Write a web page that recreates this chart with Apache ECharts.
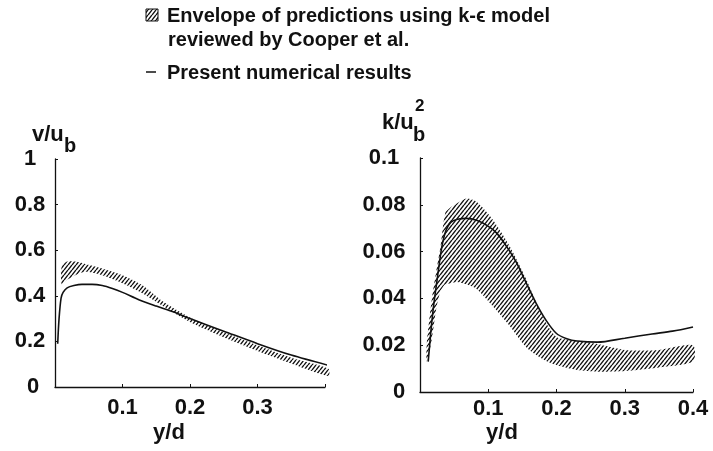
<!DOCTYPE html>
<html>
<head>
<meta charset="utf-8">
<script src="https://cdn.jsdelivr.net/npm/echarts@6/dist/echarts.min.js"></script>
<style>
  html, body { margin: 0; padding: 0; background: #ffffff; }
  #chart { width: 713px; height: 451px; }
</style>
</head>
<body>
<div id="chart"></div>
<script>
// ---- v/u_b profile (left panel) ----
const lineX_v = [0.004, 0.006, 0.009, 0.012, 0.018, 0.028, 0.04, 0.055, 0.07, 0.085, 0.1, 0.125, 0.15, 0.175, 0.2, 0.25, 0.3, 0.35, 0.405];
const lineY_v = [0.19, 0.30, 0.39, 0.415, 0.435, 0.445, 0.45, 0.45, 0.445, 0.432, 0.415, 0.382, 0.355, 0.33, 0.30, 0.245, 0.19, 0.14, 0.095];

const envX_v  = [0.010, 0.018, 0.03, 0.045, 0.07, 0.10, 0.13, 0.16, 0.20, 0.25, 0.30, 0.35, 0.405];
const envLo_v = [0.45, 0.47, 0.49, 0.505, 0.49, 0.455, 0.41, 0.355, 0.285, 0.218, 0.158, 0.103, 0.048];
const envHi_v = [0.53, 0.55, 0.55, 0.54, 0.52, 0.49, 0.445, 0.375, 0.305, 0.24, 0.183, 0.128, 0.08];

// ---- k/u_b^2 profile (right panel) ----
const lineX_k = [0.012, 0.016, 0.02, 0.026, 0.032, 0.038, 0.045, 0.055, 0.068, 0.082, 0.098, 0.112, 0.125, 0.14, 0.155, 0.17, 0.185, 0.2, 0.215, 0.23, 0.26, 0.3, 0.34, 0.37, 0.4];
const lineY_k = [0.013, 0.026, 0.037, 0.05, 0.062, 0.069, 0.0725, 0.0738, 0.0742, 0.0735, 0.0712, 0.068, 0.063, 0.056, 0.047, 0.038, 0.0305, 0.025, 0.0228, 0.0218, 0.0213, 0.023, 0.0248, 0.026, 0.0278];

const envX_k  = [0.010, 0.017, 0.024, 0.030, 0.037, 0.045, 0.054, 0.068, 0.083, 0.107, 0.132, 0.156, 0.18, 0.20, 0.23, 0.26, 0.30, 0.35, 0.40];
const envLo_k = [0.013, 0.022, 0.036, 0.043, 0.046, 0.0465, 0.047, 0.046, 0.044, 0.0365, 0.028, 0.019, 0.014, 0.0115, 0.0094, 0.0087, 0.009, 0.0105, 0.013];
const envHi_k = [0.021, 0.039, 0.052, 0.062, 0.0765, 0.079, 0.0806, 0.0827, 0.0813, 0.0735, 0.062, 0.048, 0.032, 0.0235, 0.022, 0.0205, 0.018, 0.018, 0.020];

// ---- tick labels ----
const xTicksLeft  = ['0.1', '0.2', '0.3'];
const xTicksRight = ['0.1', '0.2', '0.3', '0.4'];

const INK = '#111111';
const FONT = '"Liberation Sans", Arial, sans-serif';

// diagonal hatch tile used for the envelope fill
function hatchTile(w, h, lw) {
  const c = document.createElement('canvas');
  c.width = w; c.height = h;
  const g = c.getContext('2d');
  g.strokeStyle = INK;
  g.lineWidth = lw;
  g.beginPath();
  for (let k = -1; k <= 1; k++) {
    g.moveTo(k * w, h);
    g.lineTo(k * w + w, 0);
  }
  g.stroke();
  return c;
}
const hatch = { image: hatchTile(4, 5, 1.4), repeat: 'repeat' };

function zip(a, b) { return a.map((x, i) => [x, b[i]]); }

// envelope band drawn as one polygon: upper edge forward, lower edge back
function bandSeries(idx, xs, lo, hi) {
  return {
    type: 'custom',
    xAxisIndex: idx, yAxisIndex: idx,
    silent: true,
    z: 2,
    encode: { x: 0, y: [1, 2] },
    data: xs.map((x, i) => [x, lo[i], hi[i]]),
    renderItem: function (params, api) {
      if (params.dataIndex !== 0) return null;
      const pts = [];
      for (let i = 0; i < xs.length; i++) pts.push(api.coord([xs[i], hi[i]]));
      for (let i = xs.length - 1; i >= 0; i--) pts.push(api.coord([xs[i], lo[i]]));
      return {
        type: 'polygon',
        shape: { points: pts, smooth: 0.25 },
        style: { fill: hatch, stroke: null }
      };
    }
  };
}

function lineSeries(idx, xs, ys) {
  return {
    type: 'line', xAxisIndex: idx, yAxisIndex: idx,
    data: zip(xs, ys), symbol: 'none', smooth: 0.3, z: 5,
    lineStyle: { color: INK, width: 1.6 }, silent: true
  };
}

const axisLine = { show: true, onZero: false, lineStyle: { color: INK, width: 1.3 } };
const axisTick = { show: true, inside: true, length: 3, lineStyle: { color: INK, width: 1 } };
const labelBase = { color: INK, fontFamily: FONT, fontWeight: 'bold', fontSize: 22 };

// y labels are centred; the zero label sits a little further right
function yLabel(zeroPad) {
  return Object.assign({}, labelBase, {
    align: 'center',
    formatter: v => (v === 0 ? '{z|0}' : String(v)),
    rich: { z: { color: INK, fontFamily: FONT, fontWeight: 'bold', fontSize: 22, padding: [0, 0, 0, zeroPad] } }
  });
}

const TITLE = 'bold 22px ' + FONT;
const LEG = 'bold 20px ' + FONT;

const chart = echarts.init(document.getElementById('chart'), null, { renderer: 'canvas' });
chart.setOption({
  backgroundColor: '#ffffff',
  animation: false,
  grid: [
    { left: 55, top: 159, width: 270, height: 228 },
    { left: 420, top: 158, width: 273, height: 234 }
  ],
  xAxis: [
    {
      gridIndex: 0, type: 'value', min: 0, max: 0.4, interval: 0.1,
      axisLine, axisTick, splitLine: { show: false },
      axisLabel: Object.assign({}, labelBase, {
        margin: 10,
        formatter: v => { const s = String(+v.toFixed(1)); return xTicksLeft.includes(s) ? s : ''; }
      })
    },
    {
      gridIndex: 1, type: 'value', min: 0, max: 0.4, interval: 0.1,
      axisLine, axisTick, splitLine: { show: false },
      axisLabel: Object.assign({}, labelBase, {
        margin: 6,
        formatter: v => { const s = String(+v.toFixed(1)); return xTicksRight.includes(s) ? s : ''; }
      })
    }
  ],
  yAxis: [
    {
      gridIndex: 0, type: 'value', min: 0, max: 1, interval: 0.2,
      axisLine, axisTick, splitLine: { show: false },
      axisLabel: Object.assign(yLabel(6), { margin: 25 })
    },
    {
      gridIndex: 1, type: 'value', min: 0, max: 0.1, interval: 0.02,
      axisLine, axisTick, splitLine: { show: false },
      axisLabel: Object.assign(yLabel(30), { margin: 36 })
    }
  ],
  series: [
    bandSeries(0, envX_v, envLo_v, envHi_v),
    lineSeries(0, lineX_v, lineY_v),
    bandSeries(1, envX_k, envLo_k, envHi_k),
    lineSeries(1, lineX_k, lineY_k)
  ],
  graphic: [
    // legend
    { type: 'rect', shape: { x: 146, y: 9, width: 12, height: 12 }, style: { fill: hatch, stroke: INK, lineWidth: 1 } },
    { type: 'text', x: 167, y: 16, style: { text: 'Envelope of predictions using k-\u03f5 model', font: LEG, fill: INK, verticalAlign: 'middle' } },
    { type: 'text', x: 168, y: 40, style: { text: 'reviewed by Cooper et al.', font: LEG, fill: INK, verticalAlign: 'middle' } },
    { type: 'line', shape: { x1: 146, y1: 72, x2: 156, y2: 72 }, style: { stroke: INK, lineWidth: 1.5 } },
    { type: 'text', x: 167, y: 73, style: { text: 'Present numerical results', font: LEG, fill: INK, verticalAlign: 'middle' } },
    // left axis titles
    { type: 'text', x: 32, y: 146, style: { text: 'v/u', font: TITLE, fill: INK, verticalAlign: 'bottom' } },
    { type: 'text', x: 64, y: 156, style: { text: 'b', font: 'bold 20px ' + FONT, fill: INK, verticalAlign: 'bottom' } },
    { type: 'text', x: 169, y: 433, style: { text: 'y/d', font: TITLE, fill: INK, align: 'center', verticalAlign: 'middle' } },
    // right axis titles
    { type: 'text', x: 382, y: 134, style: { text: 'k/u', font: TITLE, fill: INK, verticalAlign: 'bottom' } },
    { type: 'text', x: 413, y: 145, style: { text: 'b', font: 'bold 20px ' + FONT, fill: INK, verticalAlign: 'bottom' } },
    { type: 'text', x: 415, y: 115, style: { text: '2', font: 'bold 17px ' + FONT, fill: INK, verticalAlign: 'bottom' } },
    { type: 'text', x: 502, y: 433, style: { text: 'y/d', font: TITLE, fill: INK, align: 'center', verticalAlign: 'middle' } }
  ]
});
</script>
</body>
</html>
